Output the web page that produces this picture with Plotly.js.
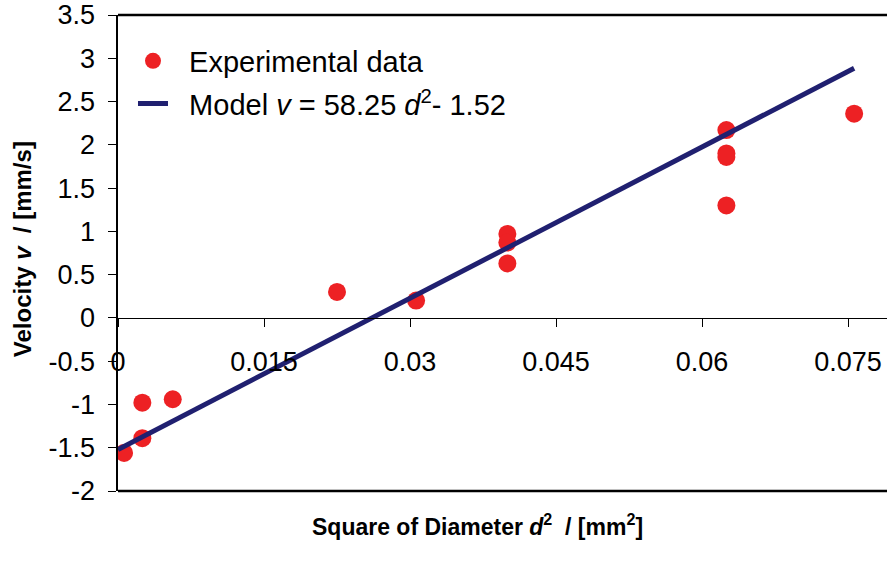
<!DOCTYPE html>
<html>
<head>
<meta charset="utf-8">
<script src="https://cdn.plot.ly/plotly-3.0.1.min.js"></script>
<style>html,body{margin:0;padding:0;background:#fff;}#chart{width:887px;height:565px;}</style>
</head>
<body>
<div id="chart"></div>
<script>
// Experimental data (d^2 in mm^2, velocity in mm/s)
var dSquared = [0.000625, 0.0025, 0.0025, 0.005625, 0.0225, 0.030625, 0.04, 0.04, 0.04, 0.0625, 0.0625, 0.0625, 0.0625, 0.075625];
var velocity = [-1.56, -1.39, -0.98, -0.94, 0.30, 0.20, 0.97, 0.87, 0.63, 2.17, 1.90, 1.86, 1.30, 2.36];
// Model line endpoints
var modelX = [0, 0.075625];
var modelY = [-1.52, 2.885];
// Axis ticks
var xTickVals = [0, 0.015, 0.03, 0.045, 0.06, 0.075];
var xTickText = ['0', '0.015', '0.03', '0.045', '0.06', '0.075'];
var yTickVals = [-2, -1.5, -1, -0.5, 0, 0.5, 1, 1.5, 2, 2.5, 3, 3.5];
var yTickText = ['-2', '-1.5', '-1', '-0.5', '0', '0.5', '1', '1.5', '2', '2.5', '3', '3.5'];

var FONT = 'Liberation Sans, Arial, sans-serif';
var PAD = '\u00A0\u00A0';

var traces = [
  {
    x: dSquared, y: velocity, type: 'scatter', mode: 'markers',
    name: PAD + 'Experimental data',
    marker: {color: '#ed2124', size: 18},
    legendgroup: 'a'
  },
  {
    x: modelX, y: modelY, type: 'scatter', mode: 'lines',
    name: PAD + 'Model <i>v</i> = 58.25 <i>d</i><sup>2</sup>- 1.52',
    line: {color: '#202070', width: 5},
    legendgroup: 'b'
  }
];

var layout = {
  width: 887, height: 565,
  margin: {l: 118, r: 0, t: 15, b: 74},
  paper_bgcolor: '#fff', plot_bgcolor: '#fff',
  font: {family: FONT, color: '#000'},
  showlegend: true,
  legend: {
    x: 0.0195, y: 0.957, xanchor: 'left', yanchor: 'top',
    font: {family: FONT, size: 29, color: '#000'},
    bgcolor: 'rgba(0,0,0,0)', borderwidth: 0,
    tracegroupgap: 2, itemwidth: 30
  },
  xaxis: {
    range: [0, 0.079], anchor: 'free', position: 0.3634,
    tickvals: xTickVals, ticktext: xTickText,
    ticks: 'outside', ticklen: 8, tickwidth: 1, tickcolor: '#000',
    showline: true, linecolor: '#000', linewidth: 1,
    showgrid: false, zeroline: false,
    tickfont: {family: FONT, size: 27, color: '#000'},
    ticklabelstandoff: 12
  },
  yaxis: {
    range: [-2, 3.5],
    tickvals: yTickVals, ticktext: yTickText,
    ticks: 'outside', ticklen: 8, tickwidth: 1, tickcolor: '#000',
    showline: true, linecolor: '#000', linewidth: 2.5,
    showgrid: false, zeroline: false,
    tickfont: {family: FONT, size: 27, color: '#000'},
    ticklabelstandoff: 7
  },
  shapes: [
    {type: 'line', xref: 'paper', yref: 'paper', x0: 0, x1: 1, y0: 1, y1: 1, line: {color: '#000', width: 2.5}},
    {type: 'line', xref: 'paper', yref: 'paper', x0: 0, x1: 1, y0: 0, y1: 0, line: {color: '#000', width: 2.5}}
  ],
  annotations: [
    {
      text: '<b>Square of Diameter <i>d</i><sup>2</sup>  / [mm<sup>2</sup>]</b>',
      xref: 'paper', yref: 'paper', x: 0.468, y: -0.0714,
      xanchor: 'center', yanchor: 'middle', showarrow: false,
      font: {family: FONT, size: 23, color: '#000'}
    },
    {
      text: '<b>Velocity <i>v</i>  / [mm/s]</b>',
      xref: 'paper', yref: 'paper', x: -0.1248, y: 0.508,
      xanchor: 'center', yanchor: 'middle', showarrow: false, textangle: -90,
      font: {family: FONT, size: 24, color: '#000'}
    }
  ]
};

Plotly.newPlot('chart', traces, layout, {staticPlot: true, displayModeBar: false});
</script>
</body>
</html>
